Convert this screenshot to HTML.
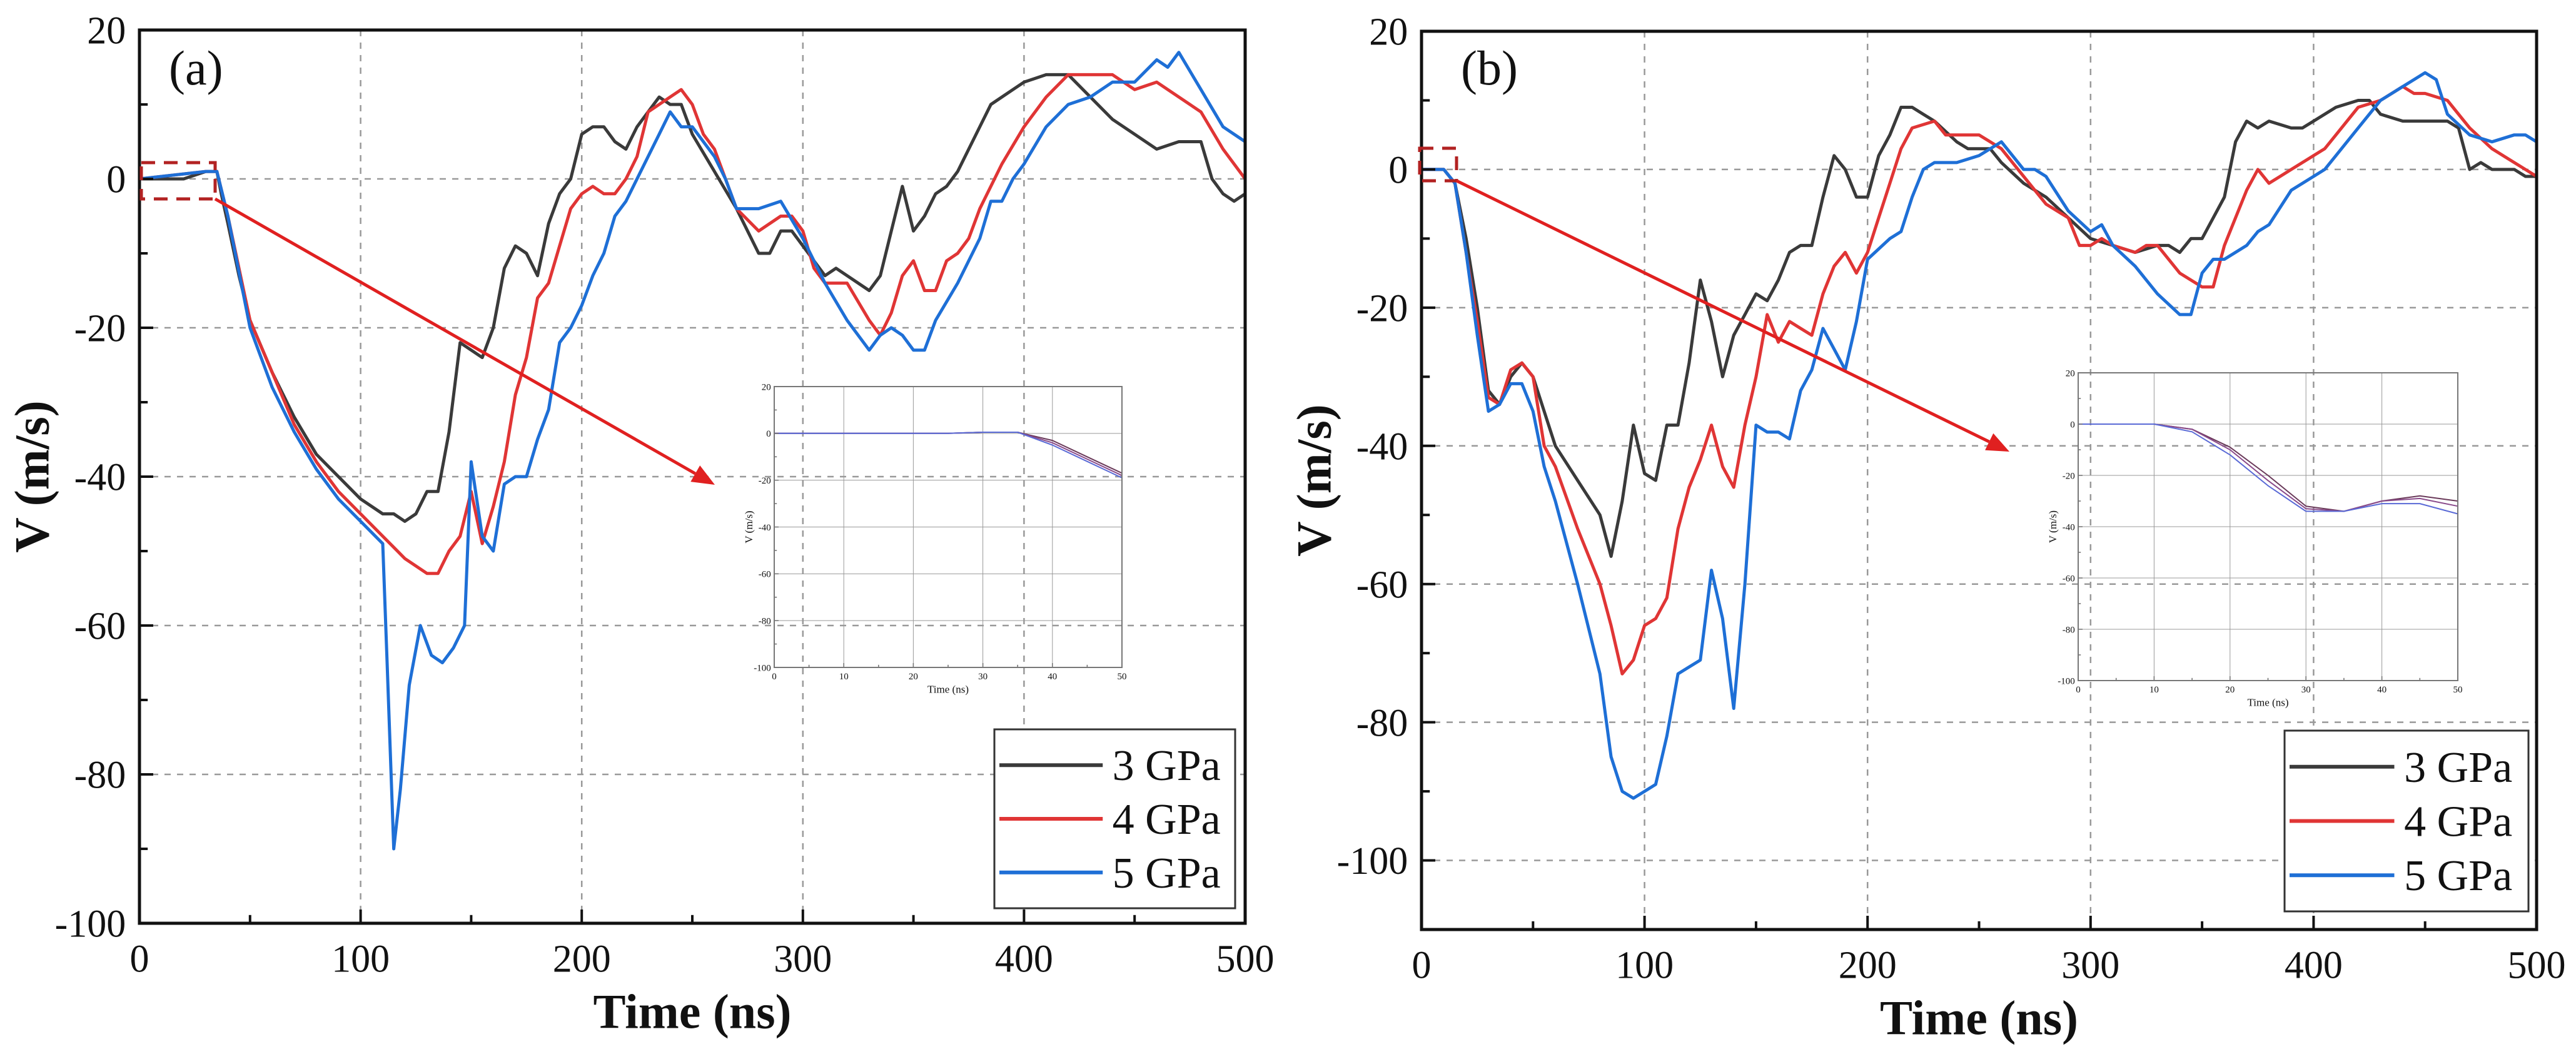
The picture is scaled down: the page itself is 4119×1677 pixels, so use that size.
<!DOCTYPE html>
<html><head><meta charset="utf-8"><style>
html,body{margin:0;padding:0;background:#fff}
svg{display:block}
text{font-family:"Liberation Serif",serif;fill:#111}
</style></head><body>
<svg id="chart" width="4119" height="1677" viewBox="0 0 4119 1677" xmlns="http://www.w3.org/2000/svg"></svg>
<script>
const NS="http://www.w3.org/2000/svg";
const seriesNames=["3 GPa","4 GPa","5 GPa"];
const seriesColors=["#3a3a3a","#e03535","#1e6fd6"];
const xTicks=[0,100,200,300,400,500];
const yTicksA=[20,0,-20,-40,-60,-80,-100];
const yTicksB=[20,0,-20,-40,-60,-80,-100];
// Panel (a) data: [time, velocity]
const a3=[[0,0],[20,0],[30,1],[35,1],[37,-2],[40,-6],[45,-13],[50,-19],[60,-26],[70,-32],[80,-37],[90,-40],[100,-43],[110,-45],[115,-45],[120,-46],[125,-45],[130,-42],[135,-42],[140,-34],[145,-22],[155,-24],[160,-20],[165,-12],[170,-9],[175,-10],[180,-13],[185,-6],[190,-2],[195,0],[200,6],[205,7],[210,7],[215,5],[220,4],[225,7],[235,11],[240,10],[245,10],[250,6],[260,1],[270,-4],[280,-10],[285,-10],[290,-7],[295,-7],[300,-9],[310,-13],[315,-12],[320,-13],[330,-15],[335,-13],[340,-7],[345,-1],[350,-7],[355,-5],[360,-2],[365,-1],[370,1],[380,7],[385,10],[395,12],[400,13],[410,14],[420,14],[430,11],[440,8],[450,6],[460,4],[470,5],[480,5],[485,0],[490,-2],[495,-3],[500,-2]];
const a4=[[0,0],[30,1],[35,1],[40,-5],[50,-19],[60,-26],[70,-33],[80,-38],[90,-42],[100,-45],[110,-48],[120,-51],[130,-53],[135,-53],[140,-50],[145,-48],[150,-42],[155,-49],[160,-44],[165,-38],[170,-29],[175,-24],[180,-16],[185,-14],[190,-9],[195,-4],[200,-2],[205,-1],[210,-2],[215,-2],[220,0],[225,3],[230,9],[240,11],[245,12],[250,10],[255,6],[260,4],[270,-4],[280,-7],[290,-5],[295,-5],[300,-7],[305,-12],[310,-14],[320,-14],[330,-19],[335,-21],[340,-18],[345,-13],[350,-11],[355,-15],[360,-15],[365,-11],[370,-10],[375,-8],[380,-4],[390,2],[400,7],[410,11],[420,14],[440,14],[450,12],[460,13],[470,11],[480,9],[490,4],[500,0]];
const a5=[[0,0],[30,1],[35,1],[40,-5],[50,-20],[60,-28],[70,-34],[80,-39],[90,-43],[100,-46],[110,-49],[112,-65],[115,-90],[118,-82],[122,-68],[127,-60],[132,-64],[137,-65],[142,-63],[147,-60],[150,-38],[155,-48],[160,-50],[165,-41],[170,-40],[175,-40],[180,-35],[185,-31],[190,-22],[195,-20],[200,-17],[205,-13],[210,-10],[215,-5],[220,-3],[225,0],[235,6],[240,9],[245,7],[250,7],[255,5],[260,3],[265,0],[270,-4],[280,-4],[290,-3],[300,-8],[310,-14],[320,-19],[330,-23],[335,-21],[340,-20],[345,-21],[350,-23],[355,-23],[360,-19],[370,-14],[380,-8],[385,-3],[390,-3],[395,0],[400,2],[410,7],[420,10],[430,11],[440,13],[450,13],[460,16],[465,15],[470,17],[480,12],[490,7],[500,5]];
// Panel (b) data
const b3=[[0,0],[10,0],[15,-2],[20,-10],[25,-20],[30,-32],[35,-34],[40,-30],[45,-28],[50,-30],[55,-35],[60,-40],[70,-45],[80,-50],[85,-56],[90,-48],[95,-37],[100,-44],[105,-45],[110,-37],[115,-37],[120,-28],[125,-16],[130,-22],[135,-30],[140,-24],[145,-21],[150,-18],[155,-19],[160,-16],[165,-12],[170,-11],[175,-11],[180,-4],[185,2],[190,0],[195,-4],[200,-4],[205,2],[210,5],[215,9],[220,9],[225,8],[230,7],[240,4],[245,3],[250,3],[255,3],[260,1],[270,-2],[280,-4],[290,-7],[300,-10],[310,-11],[320,-12],[330,-11],[335,-11],[340,-12],[345,-10],[350,-10],[360,-4],[365,4],[370,7],[375,6],[380,7],[390,6],[395,6],[400,7],[410,9],[420,10],[425,10],[430,8],[440,7],[450,7],[460,7],[465,6],[470,0],[475,1],[480,0],[490,0],[495,-1],[500,-1]];
const b4=[[0,0],[10,0],[15,-2],[20,-12],[25,-22],[30,-33],[35,-34],[40,-29],[45,-28],[50,-30],[55,-40],[60,-43],[70,-52],[80,-60],[85,-66],[90,-73],[95,-71],[100,-66],[105,-65],[110,-62],[115,-52],[120,-46],[125,-42],[130,-37],[135,-43],[140,-46],[145,-37],[150,-30],[155,-21],[160,-25],[165,-22],[170,-23],[175,-24],[180,-18],[185,-14],[190,-12],[195,-15],[200,-12],[205,-7],[210,-2],[215,3],[220,6],[230,7],[235,5],[240,5],[245,5],[250,5],[260,3],[265,1],[270,-1],[280,-5],[290,-7],[295,-11],[300,-11],[305,-10],[310,-11],[320,-12],[325,-11],[330,-11],[340,-15],[350,-17],[355,-17],[360,-11],[365,-7],[370,-3],[375,0],[380,-2],[385,-1],[390,0],[400,2],[405,3],[410,5],[420,9],[430,10],[440,12],[445,11],[450,11],[460,10],[470,6],[480,3],[490,1],[500,-1]];
const b5=[[0,0],[10,0],[15,-2],[20,-12],[25,-24],[30,-35],[35,-34],[40,-31],[45,-31],[50,-35],[55,-43],[60,-48],[70,-60],[80,-73],[85,-85],[90,-90],[95,-91],[100,-90],[105,-89],[110,-82],[115,-73],[120,-72],[125,-71],[130,-58],[135,-65],[140,-78],[145,-60],[150,-37],[155,-38],[160,-38],[165,-39],[170,-32],[175,-29],[180,-23],[185,-26],[190,-29],[195,-22],[200,-13],[210,-10],[215,-9],[220,-4],[225,0],[230,1],[240,1],[250,2],[260,4],[270,0],[275,0],[280,-1],[290,-6],[300,-9],[305,-8],[310,-11],[320,-14],[330,-18],[340,-21],[345,-21],[350,-15],[355,-13],[360,-13],[370,-11],[375,-9],[380,-8],[390,-3],[400,-1],[405,0],[410,2],[420,6],[430,10],[440,12],[450,14],[455,13],[460,8],[470,5],[480,4],[490,5],[495,5],[500,4]];
// Inset data (0-50 ns)
const ia3=[[0,0],[25,0],[30,0.5],[35,0.5],[40,-3],[45,-10],[50,-17]];
const ia4=[[0,0],[25,0],[30,0.5],[35,0.5],[40,-4],[45,-11],[50,-18]];
const ia5=[[0,0],[25,0],[30,0.5],[35,0.5],[40,-5],[45,-12],[50,-19]];
const ib3=[[0,0],[10,0],[15,-2],[20,-9],[25,-20],[30,-32],[35,-34],[40,-30],[45,-28],[50,-30]];
const ib4=[[0,0],[10,0],[15,-2],[20,-10],[25,-22],[30,-33],[35,-34],[40,-30],[45,-29],[50,-32]];
const ib5=[[0,0],[10,0],[15,-3],[20,-12],[25,-24],[30,-34],[35,-34],[40,-31],[45,-31],[50,-35]];
const insetXTicks=[0,10,20,30,40,50];
const insetYTicks=[20,0,-20,-40,-60,-80,-100];

const svg=document.getElementById('chart');
function el(tag,attrs,parent){const e=document.createElementNS(NS,tag);for(const k in attrs)e.setAttribute(k,attrs[k]);(parent||svg).appendChild(e);return e;}
function txt(s,attrs,parent){const t=el('text',attrs,parent);t.textContent=s;return t;}

function panel(cfg){
  const g=el('g',{});
  
  
  const X=t=>cfg.x0+(t-cfg.xmin)/(cfg.xmax-cfg.xmin)*(cfg.x1-cfg.x0);
  const Y=v=>cfg.y0+(cfg.ymax-v)/(cfg.ymax-cfg.ymin)*(cfg.y1-cfg.y0);
  // grid
  for(const t of cfg.xt){ if(t===cfg.xmin||t===cfg.xmax)continue;
    const l=el('line',{x1:X(t),x2:X(t),y1:cfg.y0,y2:cfg.y1,stroke:'#999','stroke-width':cfg.gw,'stroke-dasharray':cfg.gd},g);
    
    }
  for(const v of cfg.yt){ if(v===cfg.ymax||v===cfg.ymin)continue;
    const l=el('line',{x1:cfg.x0,x2:cfg.x1,y1:Y(v),y2:Y(v),stroke:'#999','stroke-width':cfg.gw,'stroke-dasharray':cfg.gd},g);
    
    }
  // series
  cfg.series.forEach((s,i)=>{
    const p=el('polyline',{points:s.map(d=>X(d[0]).toFixed(1)+','+Y(d[1]).toFixed(1)).join(' '),fill:'none',stroke:cfg.colors[i],'stroke-width':cfg.lw,'stroke-linejoin':'round'},g);
    
    
  });
  // frame
  const fr=el('rect',{x:cfg.x0,y:cfg.y0,width:cfg.x1-cfg.x0,height:cfg.y1-cfg.y0,fill:'none',stroke:cfg.fc,'stroke-width':cfg.fw},g);
  
  
  // ticks
  const step=(cfg.xt[1]-cfg.xt[0]);
  for(let t=cfg.xmin;t<=cfg.xmax;t+=step/2){
    const len=(Math.abs(((t-cfg.xmin)/step)-Math.round((t-cfg.xmin)/step))<1e-6)?cfg.tl:cfg.tl*0.6;
    el('line',{x1:X(t),x2:X(t),y1:cfg.y1,y2:cfg.y1-len,stroke:cfg.fc,'stroke-width':cfg.fw*0.8},g);
  }
  const ys=cfg.yt[0]-cfg.yt[1];
  for(let v=cfg.ymax;v>=cfg.ymin-1e-6;v-=ys/2){
    const len=(Math.abs(((cfg.ymax-v)/ys)-Math.round((cfg.ymax-v)/ys))<1e-6)?cfg.tl:cfg.tl*0.6;
    el('line',{x1:cfg.x0,x2:cfg.x0+len,y1:Y(v),y2:Y(v),stroke:cfg.fc,'stroke-width':cfg.fw*0.8},g);
  }
  for(const t of cfg.xt){const l=txt(String(t),{x:X(t),y:cfg.y1+cfg.fs*1.25,'font-size':cfg.fs,'text-anchor':'middle'},g);
    
    }
  for(const v of cfg.yt){const l=txt(String(v),{x:cfg.x0-cfg.fs*0.35,y:Y(v)+cfg.fs*0.35,'font-size':cfg.fs,'text-anchor':'end'},g);
    
    }
  const xt=txt('Time (ns)',{x:(cfg.x0+cfg.x1)/2,y:cfg.y1+cfg.fs*2.7,'font-size':cfg.ts,'text-anchor':'middle','font-weight':cfg.bold?'bold':'normal'},g);
  
  
  const yx=cfg.x0-cfg.fs*2.35, yy=(cfg.y0+cfg.y1)/2;
  const yt=txt('V (m/s)',{x:yx,y:yy,'font-size':cfg.ts,'text-anchor':'middle','font-weight':cfg.bold?'bold':'normal',transform:`rotate(-90 ${yx} ${yy})`},g);
  
  
  return {X,Y,g};
}

function legend(x,y,w,h){
  const g=el('g',{});
  
  
  el('rect',{x,y,width:w,height:h,fill:'#fff',stroke:'#333','stroke-width':3},g);
  seriesNames.forEach((n,i)=>{
    const cy=y+h*(0.2+i*0.3);
    const e=el('g',{},g);
    
    
    el('line',{x1:x+8,x2:x+w*0.45,y1:cy,y2:cy,stroke:seriesColors[i],'stroke-width':6},e);
    txt(n,{x:x+w*0.49,y:cy+24,'font-size':70},e);
  });
}

function arrow(bx,by,bw,bh,x2,y2,name){
  const g=el('g',{});
  
  
  el('rect',{x:bx,y:by,width:bw,height:bh,fill:'none',stroke:'#b22222','stroke-width':5,'stroke-dasharray':'22 14'},g);
  const x1=bx+bw,y1=by+bh;
  const ang=Math.atan2(y2-y1,x2-x1),L=36,W=15;
  const ex=x2-L*Math.cos(ang),ey=y2-L*Math.sin(ang);
  el('line',{x1,y1,x2:ex,y2:ey,stroke:'#e02020','stroke-width':5},g);
  el('polygon',{points:`${x2},${y2} ${ex-W*Math.sin(ang)},${ey+W*Math.cos(ang)} ${ex+W*Math.sin(ang)},${ey-W*Math.cos(ang)}`,fill:'#e02020'},g);
}

const common={xmin:0,xmax:500,xt:xTicks,colors:seriesColors,lw:5,fw:5,fc:'#111',gw:2.5,gd:'10 10',tl:22,fs:62,ts:78,bold:true};
panel(Object.assign({},common,{name:'panel-a',x0:223,x1:1991,y0:48,y1:1476,ymin:-100,ymax:20,yt:yTicksA,series:[a3,a4,a5]}));
panel(Object.assign({},common,{name:'panel-b',x0:2273,x1:4056,y0:50,y1:1486,ymin:-110,ymax:20,yt:yTicksB,series:[b3,b4,b5]}));
txt('(a)',{x:270,y:135,'font-size':78});
txt('(b)',{x:2336,y:135,'font-size':78});

const inCommon={xmin:0,xmax:50,xt:insetXTicks,yt:insetYTicks,ymin:-100,ymax:20,colors:['#6a3a5a','#8a4a8a','#5a6ad6'],lw:2,fw:2,fc:'#777',gw:1,gd:'',tl:7,fs:15,ts:17,bold:false};
panel(Object.assign({},inCommon,{name:'inset-a',x0:1238,x1:1794,y0:618,y1:1067,series:[ia3,ia4,ia5]}));
panel(Object.assign({},inCommon,{name:'inset-b',x0:3323,x1:3930,y0:596,y1:1088,series:[ib3,ib4,ib5]}));

legend(1590,1166,385,286);
legend(3653,1168,390,289);
arrow(226,260,118,58,1143,775,'zoom-arrow-a');
arrow(2270,237,59,52,3213,722,'zoom-arrow-b');
</script>
</body></html>
